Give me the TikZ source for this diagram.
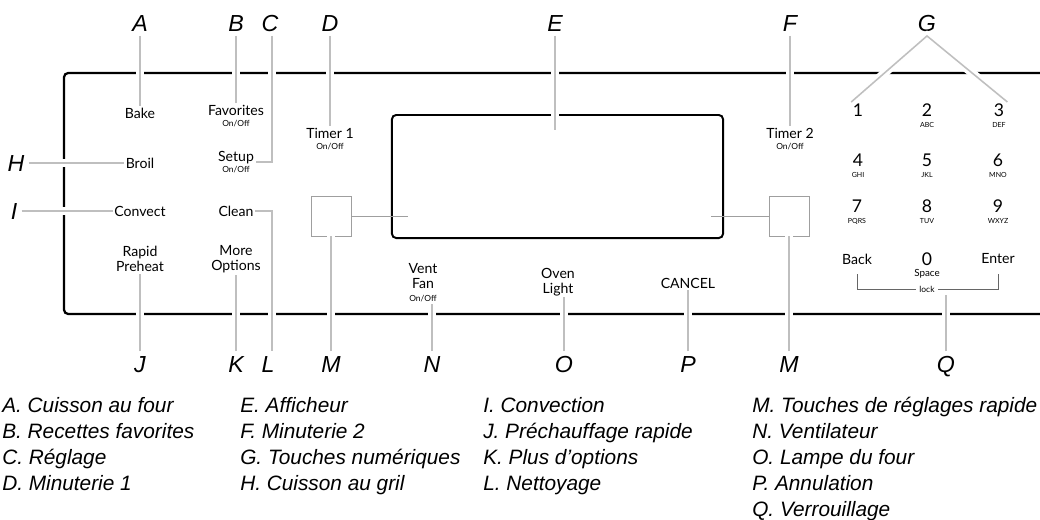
\documentclass[tikz,border=0pt]{standalone}
\usepackage{fontspec}
\setmainfont{Lato}
\newfontfamily\helv{Liberation Sans}
\newcommand{\onoff}{{\fontsize{6}{6}\selectfont On/Off}}
\newcommand{\keysub}[1]{{\fontsize{5}{5}\selectfont #1}}
\tikzset{letter/.style={font=\helv\itshape\fontsize{16.5}{18}\selectfont,inner sep=3pt,text height=12pt,text depth=0pt},
 key/.style={font=\fontsize{10}{11}\selectfont,align=center,inner sep=1pt},
 digit/.style={font=\fontsize{12.5}{12}\selectfont,align=center,inner sep=1pt,anchor=north},
 locktext/.style={font=\fontsize{6}{6}\selectfont,inner sep=2pt},
 panel/.style={line width=1.6pt,rounded corners=3pt},
 disp/.style={draw,line width=1.4pt,rounded corners=3pt,minimum width=8.275cm,minimum height=3.075cm,inner sep=0pt},
 pad/.style={draw=gray!75,line width=0.6pt,minimum size=1cm,inner sep=0pt},
 link/.style={draw=gray!75,line width=0.7pt},
 bracket/.style={draw=gray!80!black,line width=0.6pt},
 leader/.style={draw=gray!50,line width=1.1pt,preaction={draw=white,line width=6pt}},
 legtext/.style={font=\helv\itshape\fontsize{14.8}{18.5}\selectfont,align=left,anchor=north west,inner sep=0pt}}

\begin{document}
\begin{tikzpicture}[x=0.025cm,y=-0.025cm]
 \fill[white] (0,0) rectangle (1040,520);
 \useasboundingbox (0,0) rectangle (1040,520);
 % control panel
 \draw[panel] (1040,73) -| (64,314) -- (1040,314);
 \node[disp] (disp) at (557.5,176.5) {};
 \node[pad] (padL) at (331,216) {};
 \node[pad] (padR) at (789,216) {};
 \coordinate (dispL) at (408,216);
 \coordinate (dispR) at (711,216);
 \draw[link] (padL) -- (dispL);
 \draw[link] (padR) -- (dispR);

 % keys
 \node[key] (bake) at (140,113) {Bake};
 \node[key] (broil) at (140,163) {Broil};
 \node[key] (convect) at (140,211) {Convect};
 \node[key] (rapid) at (140,259) {Rapid\\Preheat};
 \node[key] (fav) at (236,116) {Favorites\\[-3pt]\onoff};
 \node[key] (setup) at (236,162) {Setup\\[-3pt]\onoff};
 \node[key] (clean) at (236,211) {Clean};
 \node[key] (more) at (236,259) {More\\Options};
 \node[key] (timer1) at (330,139) {Timer 1\\[-3pt]\onoff};
 \node[key] (timer2) at (790,139) {Timer 2\\[-3pt]\onoff};
 \node[key] (vent) at (423,283) {Vent\\[-0.5pt]Fan\\[-1.5pt]\onoff};
 \node[key] (light) at (558,282) {Oven\\[-0.5pt]Light};
 \node[key] (cancel) at (688,283) {CANCEL};

 % number pad
 \foreach \d/\s/\xx/\yy in {1//858/102,2/ABC/927/102,3/DEF/999/102,
   4/GHI/858/152,5/JKL/927/152,6/MNO/998/152,7/PQRS/857/198,8/TUV/927/198,9/WXYZ/998/198}
  \node[digit] (k\d) at (\xx,\yy) {\d\\[-4pt]\keysub{\s}};
 \node[digit] (k0) at (927,251) {0\\[-4pt]{\fontsize{7}{7}\selectfont Space}};
 \node[key] (back) at (857,259) {Back};
 \node[key] (enter) at (998,259) {Enter};
 \node[locktext] (lock) at (927,289) {lock};
 \draw[bracket,shorten <=6pt] (back.south) |- (lock.west);
 \draw[bracket,shorten <=6pt] (enter.south) |- (lock.east);

 % letters
 \foreach \n/\xx in {A/140,B/236,C/270,D/330,E/555,F/790,G/927}
  \node[letter] (\n) at (\xx,23) {\n};
 \node[letter] (H) at (16,163) {H};
 \node[letter] (I) at (14,211) {I};
 \foreach \n/\t/\xx in {J/J/140,K/K/236,L/L/268,M/M/331,N/N/432,O/O/564,P/P/688,M2/M/789,Q/Q/946}
  \node[letter] (\n) at (\xx,364) {\t};

 % leaders
 \coordinate (cturn) at (272,162);
 \coordinate (lturn) at (272,211);
 \coordinate (eend) at (555,130);
 \draw[leader] (A) -- (bake);
 \draw[leader] (B) -- (fav);
 \draw[leader] (C.south -| cturn) -- (cturn) -- (setup.east);
 \draw[leader] (D) -- (timer1);
 \draw[leader] (E) -- (eend);
 \draw[leader] (F) -- (timer2);
 \draw[leader] (k1.north west) -- (G.south) -- (k3.north east);
 \draw[leader] (H) -- (broil);
 \draw[leader] (I) -- (convect);
 \draw[leader] (J) -- (rapid);
 \draw[leader] (K) -- (more);
 \draw[leader] (clean.east) -- (lturn) -- (L.north -| lturn);
 \draw[leader] (M) -- (padL);
 \draw[leader] (N.north) -- (N.north |- vent.south);
 \draw[leader] (O.north) -- (O.north |- light.south);
 \draw[leader] (P) -- (cancel);
 \draw[leader] (M2) -- (padR);
 \draw[leader] (Q.north) -- (Q.north |- lock.south);

 % legend
 \node[legtext] (leg1) at (2,397) {A. Cuisson au four\\B. Recettes favorites\\C. Réglage\\D. Minuterie 1};
 \node[legtext] (leg2) at (240,397) {E. Afficheur\\F. Minuterie 2\\G. Touches numériques\\H. Cuisson au gril};
 \node[legtext] (leg3) at (483,397) {I. Convection\\J. Préchauffage rapide\\K. Plus d’options\\L. Nettoyage};
 \node[legtext] (leg4) at (752,397) {M. Touches de réglages rapide\\N. Ventilateur\\O. Lampe du four\\P. Annulation\\Q. Verrouillage};
\end{tikzpicture}
\end{document}
